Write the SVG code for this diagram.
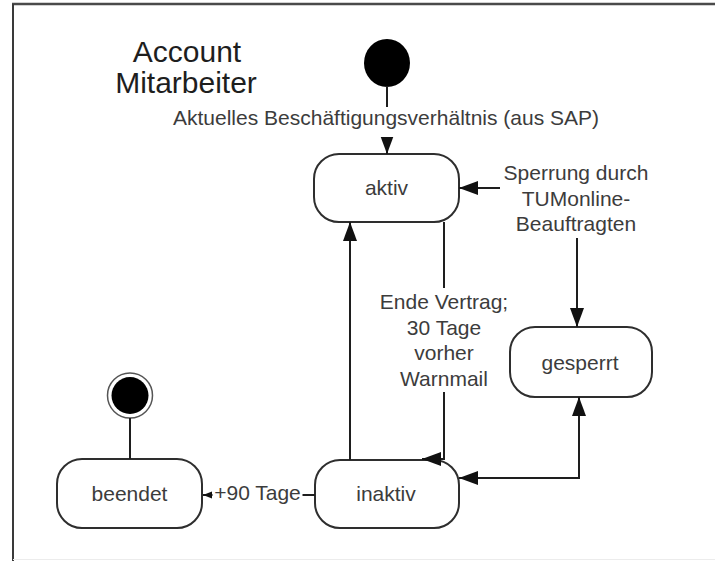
<svg xmlns="http://www.w3.org/2000/svg" width="715" height="561" viewBox="0 0 715 561">
  <defs>
    <style>
      .frame { stroke: #4a4a4a; stroke-width: 2.5; fill: none; }
      .state { fill: #ffffff; stroke: #2e2e2e; stroke-width: 2; }
      .wire { fill: none; stroke: #1e1e1e; stroke-width: 2; }
      .lbl { font-family: "Liberation Sans", Arial, sans-serif; font-size: 21px; fill: #3c3c3c; text-anchor: middle; }
      .title { font-family: "Liberation Sans", Arial, sans-serif; font-size: 30px; fill: #1e1e1e; text-anchor: middle; }
      .mask { fill: #ffffff; stroke: none; }
    </style>
    <marker id="arrow" markerUnits="userSpaceOnUse" markerWidth="20" markerHeight="16" refX="19" refY="7" orient="auto-start-reverse">
      <path d="M0,0 L19,7 L0,14 z" fill="#111"/>
    </marker>
    <marker id="arrowSmall" markerUnits="userSpaceOnUse" markerWidth="10" markerHeight="8" refX="9" refY="3.5" orient="auto">
      <path d="M0,0 L9,3.5 L0,7 z" fill="#111"/>
    </marker>
  </defs>

  <rect width="715" height="561" fill="#ffffff"/>

  <!-- frame -->
  <path class="frame" d="M12,4 H715"/>
  <path d="M13,4 V561" stroke="#3a3a3a" stroke-width="2" fill="none"/>
  <path d="M13,559.5 H715" stroke="#ececec" stroke-width="1" fill="none"/>

  <!-- heading -->
  <g id="title">
    <text class="title" x="187" y="62">Account</text>
    <text class="title" x="186" y="93">Mitarbeiter</text>
  </g>

  <!-- initial state -->
  <g id="start">
    <ellipse cx="387" cy="63" rx="23" ry="24" fill="#000"/>
  </g>

  <!-- states -->
  <g id="aktiv">
    <rect class="state" x="314" y="154" width="145" height="68" rx="25" ry="25"/>
    <text class="lbl" x="386.5" y="195">aktiv</text>
  </g>

  <g id="gesperrt">
    <rect class="state" x="510" y="327" width="142" height="70" rx="25" ry="25"/>
    <text class="lbl" x="580" y="370">gesperrt</text>
  </g>

  <g id="inaktiv">
    <rect class="state" x="315" y="460" width="144" height="68" rx="25" ry="25"/>
    <text class="lbl" x="386" y="501">inaktiv</text>
  </g>

  <g id="beendet">
    <rect class="state" x="57" y="459" width="145" height="69" rx="25" ry="25"/>
    <text class="lbl" x="129.5" y="501">beendet</text>
  </g>

  <!-- final state -->
  <g id="end">
    <circle cx="130" cy="395.5" r="22.5" fill="#ffffff" stroke="#555" stroke-width="1.5"/>
    <circle cx="130" cy="395.5" r="18.5" fill="#000"/>
  </g>

  <!-- transitions -->
  <g id="connectors">
    <path class="wire" d="M387,86 V154" marker-end="url(#arrow)"/>
    <path class="wire" d="M459,188 H577 V327" marker-start="url(#arrow)" marker-end="url(#arrow)"/>
    <path class="wire" d="M444,222 V459 H422" marker-end="url(#arrow)"/>
    <path class="wire" d="M350,460 V222" marker-end="url(#arrow)"/>
    <path class="wire" d="M579,397 V478 H459" marker-start="url(#arrow)" marker-end="url(#arrow)"/>
    <path class="wire" d="M315,495 H203" marker-end="url(#arrowSmall)"/>
    <path class="wire" d="M130,418 V459"/>
  </g>

  <!-- transition labels -->
  <g id="labels">
    <rect class="mask" x="375" y="107" width="24" height="30"/>
    <text class="lbl" x="386" y="125">Aktuelles Beschäftigungsverhältnis (aus SAP)</text>

    <rect class="mask" x="500" y="160" width="154" height="78"/>
    <text class="lbl" x="576" y="180">Sperrung durch</text>
    <text class="lbl" x="576" y="205.5">TUMonline-</text>
    <text class="lbl" x="576" y="231">Beauftragten</text>

    <rect class="mask" x="436" y="288" width="16" height="104"/>
    <text class="lbl" x="444" y="309">Ende Vertrag;</text>
    <text class="lbl" x="444" y="334.5">30 Tage</text>
    <text class="lbl" x="444" y="360">vorher</text>
    <text class="lbl" x="444" y="385.5">Warnmail</text>

    <rect class="mask" x="212.5" y="485" width="90" height="20"/>
    <text class="lbl" x="257.5" y="500">+90 Tage</text>
  </g>
</svg>
